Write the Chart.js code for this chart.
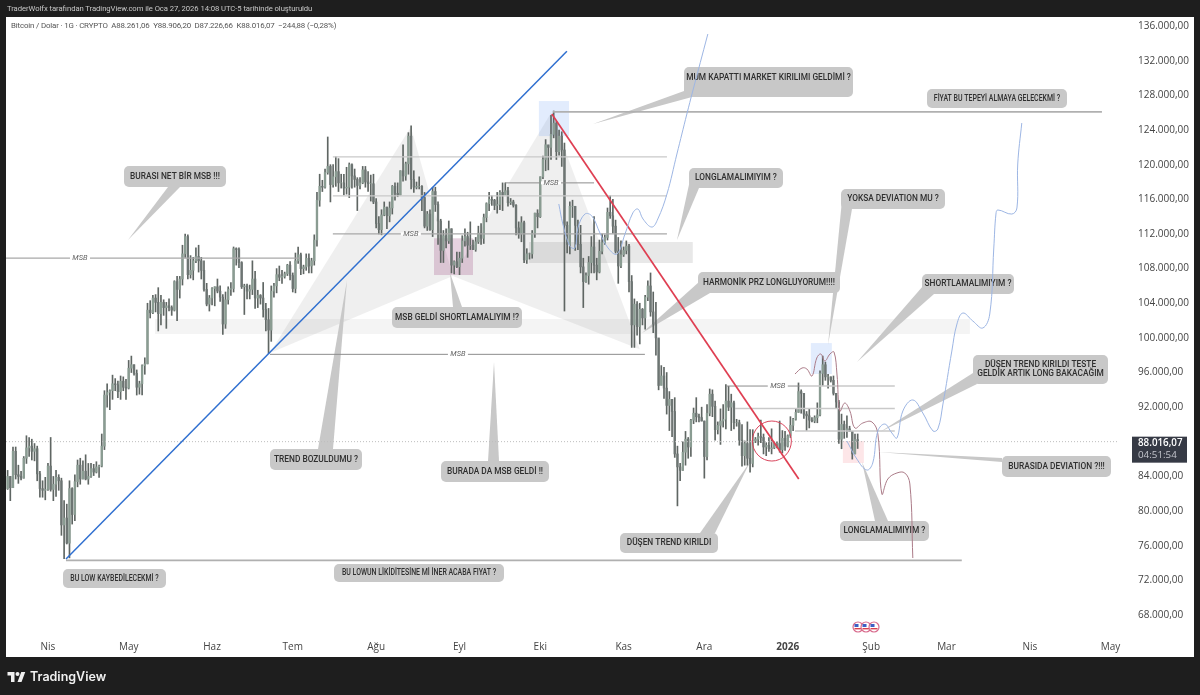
<!DOCTYPE html>
<html lang="tr">
<head>
  <meta charset="UTF-8">
  <title>Bitcoin / Dolar</title>
  <style>
    html, body { margin: 0; width: 1200px; height: 695px; overflow: hidden; background: #1e1e1e; }
    #chart { position: absolute; left: 0; top: 0; }
    .note { position: absolute; white-space: pre; font-family: Roboto, sans-serif; }
    #credit { left: 7px; top: 3px; font-size: 7.7px; letter-spacing: -0.07px; line-height: 12px; color: #c8c8c8; }
    #legend { left: 11px; top: 20px; font-size: 7.9px; letter-spacing: -0.16px; line-height: 12px; color: #555; }
    #brand { left: 30px; top: 667px; font-family: Inter, sans-serif; font-size: 12.5px; font-weight: 600; line-height: 20px; color: #f0f0f0; }
    #logo { position: absolute; left: 7px; top: 670px; }
  </style>
</head>
<body>
  <canvas id="chart" width="1200" height="695"></canvas>
  <div class="note" id="credit">TraderWolfx tarafından TradingView.com ile Oca 27, 2026 14:08 UTC-5 tarihinde oluşturuldu</div>
  <div class="note" id="legend">Bitcoin / Dolar · 1G · CRYPTO  A88.261,06  Y88.906,20  D87.226,66  K88.016,07  −244,88 (−0,28%)</div>
  <svg id="logo" width="19" height="13" viewBox="0 0 36 26"><path fill="#f0f0f0" d="M14 24H7V11H0V4h14v20zM28 24h-8l7.5-20h8L28 24z"/><circle fill="#f0f0f0" cx="20" cy="8" r="4"/></svg>
  <div class="note" id="brand">TradingView</div>

  <script src="https://cdn.jsdelivr.net/npm/chart.js@4"></script>
  <script>
    // Daily candles, in thousands of dollars. First candle is 17 Mar 2025, day 0 is 1 Apr 2025
    const firstDay = -15;
    const firstOpen = 82.6;
    const highs = [
      84.7,84.0,87.4,87.4,85.3,84.6,86.3,88.7,88.5,88.3,87.8,87.5,84.6,83.5,83.9,
      85.5,88.5,84.0,84.7,84.2,83.8,81.2,80.8,83.5,82.7,84.2,85.9,86.1,85.8,86.5,85.5,85.5,85.4,85.7,85.3,88.9,93.9,94.7,94.0,95.7,95.3,95.0,95.6,95.5,95.2,
      97.4,97.9,96.9,96.3,95.0,96.9,97.7,104.0,104.3,104.9,105.0,105.8,104.9,104.4,104.1,104.5,103.7,106.6,107.1,107.1,110.7,112.0,111.9,109.5,109.3,110.4,110.7,109.3,108.9,106.3,104.9,
      105.8,105.9,106.8,106.0,105.0,105.3,105.9,106.4,110.5,110.4,110.4,108.8,106.2,106.2,106.1,108.9,107.7,105.5,105.0,106.4,104.0,103.4,106.0,106.3,108.0,108.3,107.8,107.6,108.5,108.8,
      107.5,109.8,110.5,109.8,108.4,109.7,109.7,109.2,111.9,116.8,118.9,118.2,119.5,123.2,120.0,120.0,120.9,120.7,118.9,118.9,119.7,120.2,120.1,119.5,118.5,118.5,119.8,119.8,119.2,118.8,118.9,
      116.1,114.0,114.8,115.7,115.1,115.7,117.6,117.9,117.9,119.3,122.3,120.3,123.7,124.5,119.3,118.0,118.6,117.6,116.8,114.6,114.8,117.4,117.4,115.7,113.7,112.4,112.6,113.5,112.6,108.9,109.9,
      109.9,111.8,112.6,112.2,113.4,111.3,111.6,112.9,113.2,114.3,115.6,116.8,116.4,116.0,116.8,117.0,117.9,117.9,117.4,116.1,115.9,115.4,113.4,114.0,113.5,110.3,109.8,112.4,114.4,114.8,
      118.6,121.0,122.9,122.2,125.7,126.2,125.0,124.0,123.8,122.5,113.4,115.7,115.9,115.1,113.6,113.0,109.2,107.5,109.4,111.7,114.0,109.2,111.3,112.0,111.9,115.0,116.4,116.0,113.6,111.6,111.2,
      110.5,111.2,110.8,107.2,104.5,104.2,104.0,103.4,104.9,106.6,107.5,105.3,104.1,99.9,96.8,96.6,96.0,93.8,92.9,93.1,87.5,85.5,88.0,89.2,88.5,90.6,91.9,93.1,91.2,92.0,
      90.4,92.3,94.1,94.0,92.7,90.3,91.8,92.3,94.6,94.4,93.5,92.7,90.6,90.5,90.0,88.1,90.3,89.4,89.4,88.5,89.0,90.5,88.9,87.9,88.5,89.5,87.9,88.0,90.4,89.3,89.2,
      88.8,90.9,90.7,91.8,94.8,94.0,93.6,91.5,91.8,90.8,91.0,92.5,96.2,97.9,97.2,95.8,95.5,95.6,93.6,92.8,91.2,90.4,91.0,89.8,89.2,88.9,88.906
    ];
    const lows = [
      82.5,81.2,82.7,83.7,83.2,83.6,83.8,85.5,86.3,85.9,85.8,83.5,81.6,81.6,81.3,
      82.4,82.3,81.2,81.7,82.4,77.2,74.5,76.2,74.6,78.5,78.9,82.8,83.1,83.7,83.6,83.1,83.9,84.1,84.4,83.9,85.1,87.1,92.0,91.7,92.9,93.9,93.1,92.9,93.9,92.9,
      94.1,96.0,95.7,93.4,93.5,93.4,95.8,97.0,102.3,102.8,103.0,100.8,101.5,102.6,101.1,103.1,102.6,103.1,102.0,104.6,106.1,109.3,106.8,106.9,106.7,108.7,107.6,106.8,105.4,103.7,103.1,
      103.8,103.7,105.2,104.2,100.4,101.1,103.9,104.9,105.3,108.4,108.1,105.7,102.7,104.5,104.5,105.0,103.4,103.5,103.9,102.4,100.8,98.2,99.6,104.7,105.2,106.6,106.3,106.9,107.2,106.7,
      105.3,105.2,108.6,107.3,107.4,107.8,107.5,107.5,108.4,110.6,115.2,116.9,117.3,118.9,115.7,117.4,117.5,116.9,117.3,116.5,116.6,116.2,117.3,117.4,114.7,117.2,117.8,117.4,116.9,115.8,115.5,
      112.7,112.0,111.9,114.1,112.6,113.4,114.3,115.9,116.3,116.5,118.1,118.2,118.9,117.2,116.8,117.2,117.2,114.7,112.7,112.4,112.4,111.7,114.6,110.8,108.7,108.7,110.4,110.9,107.5,107.4,108.1,
      107.3,108.7,110.6,109.3,110.2,110.2,110.0,110.9,110.8,110.9,113.4,114.7,115.3,114.8,114.4,114.8,114.7,116.8,115.2,115.4,115.1,111.9,111.5,111.1,108.7,108.6,109.1,109.2,111.6,112.7,
      113.9,118.4,119.3,119.4,120.6,123.1,120.6,121.1,119.8,103.1,109.8,109.7,113.9,110.1,110.2,107.5,103.5,106.4,106.2,107.5,107.5,106.7,107.5,109.7,110.8,111.3,113.8,112.1,109.8,106.3,108.1,
      109.4,109.7,105.3,98.9,98.9,100.3,99.3,101.5,101.0,104.3,102.5,100.6,98.0,94.0,94.6,93.0,91.2,89.3,88.6,86.2,80.6,83.5,84.7,85.3,86.1,86.3,90.1,90.3,90.3,90.4,
      83.8,85.9,91.0,90.9,88.2,88.9,87.7,89.7,89.5,91.6,89.3,89.5,89.8,87.6,85.2,85.3,85.3,84.5,85.1,87.9,87.6,87.9,86.6,86.4,86.9,86.6,87.2,87.3,86.8,86.7,87.0,
      87.4,88.5,89.3,90.5,91.4,91.3,90.7,89.3,89.6,90.3,90.2,90.2,91.0,94.5,95.1,94.2,94.9,93.4,91.9,87.8,87.2,88.4,88.5,89.2,86.0,86.6,87.227
    ];
    const closes = [
      84.0,82.7,86.9,84.2,84.0,83.8,86.1,87.3,87.5,86.9,87.2,84.3,82.6,82.4,82.5,
      85.2,82.5,83.1,83.9,83.5,78.4,79.2,76.3,82.6,79.6,83.4,85.3,83.7,84.6,83.7,84.0,84.9,84.5,85.1,85.2,87.5,93.4,93.7,93.9,94.7,94.6,93.8,95.0,94.3,94.2,
      96.5,96.9,95.9,94.3,94.7,96.8,97.0,103.2,102.9,104.6,104.1,102.8,104.1,103.5,103.7,103.5,103.2,106.5,105.6,106.8,109.7,111.7,107.3,107.8,108.9,109.4,108.9,107.8,105.6,103.9,104.6,
      105.7,105.9,105.4,104.7,101.6,104.4,105.6,105.7,110.3,110.2,108.7,105.9,106.0,105.4,105.6,106.8,104.6,104.9,104.6,103.3,102.1,100.9,105.4,106.0,107.3,107.0,107.1,107.4,108.4,107.2,
      105.7,108.9,109.6,108.0,108.2,109.2,108.3,108.9,111.3,115.9,117.5,117.4,119.1,119.8,117.7,118.6,119.2,117.9,117.9,117.3,117.4,120.0,118.7,118.3,117.6,117.9,119.4,118.0,117.8,117.8,115.7,
      113.2,112.5,114.2,115.1,114.1,115.0,117.5,116.7,116.5,119.3,118.7,120.1,123.3,118.3,117.4,117.5,117.5,116.2,112.9,114.3,112.5,116.9,115.4,113.5,110.1,111.8,111.2,112.6,108.4,108.8,108.2,
      109.2,111.2,111.7,110.7,110.7,110.2,111.1,112.1,111.5,113.9,115.5,116.0,115.9,115.3,115.4,116.8,116.5,117.0,115.6,115.7,115.3,112.7,112.0,113.3,109.0,109.7,109.7,112.1,114.4,114.0,
      118.6,120.6,122.3,122.0,123.5,124.8,121.5,123.3,121.7,113.0,110.8,115.2,115.2,113.0,110.8,108.2,106.5,107.2,108.7,110.5,108.4,107.6,110.0,111.0,111.6,114.5,114.1,112.9,110.0,108.3,109.6,
      110.1,110.6,106.5,101.5,103.9,101.3,103.3,102.3,104.7,106.0,103.0,101.6,100.0,94.5,95.6,94.2,92.2,92.9,91.5,86.6,85.1,84.7,86.8,88.3,87.4,90.5,91.3,90.9,90.8,90.4,
      86.3,91.3,93.5,92.1,89.4,89.9,90.4,90.6,92.7,92.0,92.5,90.2,90.2,88.2,86.4,87.8,86.1,85.5,88.1,88.3,88.6,88.5,87.4,87.6,87.2,87.3,87.8,87.8,87.1,88.4,87.5,
      88.7,89.9,90.6,91.4,93.8,93.6,91.2,91.0,90.5,90.4,90.8,91.1,95.9,96.9,95.5,95.5,95.1,93.6,92.6,88.3,90.0,89.4,89.5,89.2,86.6,88.261,88.016
    ];
    const lastPrice = 88.016;

    // Axes
    const priceTicks = [68,72,76,80,84,88,92,96,100,104,108,112,116,120,124,128,132,136];
    const monthDays = [0,30,61,91,122,153,183,214,244,275,306,334,365,395];
    const monthLabels = ['Nis','May','Haz','Tem','Ağu','Eyl','Eki','Kas','Ara','2026','Şub','Mar','Nis','May'];

    // Trend lines: [day, price] pairs
    const blueTrendDays = [6.7, 192.9];
    const blueTrendPrices = [74.47, 133.1];
    const redTrendDays = [187.3, 279.1];
    const redTrendPrices = [125.85, 83.7];

    // Horizontal levels
    const levelPrices = [109.2, 120.9, 116.4, 112.0, 117.9, 126.1, 98.1, 74.3, 94.44, 94.44, 91.84, 89.25];
    const levelStarts = [-15.6, 105.9, 105.9, 105.9, 169.9, 187.7, 82.5, 6.7, 252.4, 279.5, 255.4, 277.7];
    const levelEnds = [93.7, 230.1, 230.1, 230.1, 203, 391.8, 221.9, 339.7, 279.5, 314.8, 314.8, 314.8];
    const levelKinds = ['mid','light','light','mid','dark','heavy','dark','heavy','dark','light','light','light'];

    // "MSB" tags
    const msbDays = [11.9, 134.9, 187, 152.4, 271.3];
    const msbPrices = [109.2, 112.0, 117.9, 98.1, 94.44];

    // Price zones
    const zoneStarts = [39.8, 178.8, 182.5, 143.5, 283.6, 295.5];
    const zoneEnds = [342.7, 239.7, 193.7, 158, 291.4, 303.3];
    const zoneHighs = [102.18, 111.07, 127.35, 111.5, 99.4, 88.09];
    const zoneLows = [100.45, 108.65, 123.3, 107.26, 95.83, 85.55];
    const zoneFills = ['rgba(120,120,120,.08)','rgba(120,120,120,.17)','rgba(60,130,240,.15)','rgba(150,60,120,.23)','rgba(60,130,240,.15)','rgba(240,80,90,.14)'];

    // Harmonic pattern X A B C D
    const harmonicDays = [82.5, 134.9, 150.5, 187, 220];
    const harmonicPrices = [98.25, 124.35, 107.14, 125.97, 98.7];

    // Hand drawn scenarios
    const blueLeftDays = [189.9,191.4,194.0,195.9,197.0,199.6,202.2,205.2,208.2,211.5,214.5,217.4,219.3,221.2,224.5,226.7,230.1,233.8,237.5,239.7,245.3];
    const blueLeftPrices = [115.46,113.15,110.61,110.38,112.69,114.30,114.07,112.11,110.38,109.68,111.99,114.42,114.88,113.73,112.80,113.73,116.61,121.23,125.85,128.51,135.09];
    const blueRightDays = [297.0,300.7,304.4,306.6,308.5,311.1,313.7,315.6,317.8,321.5,325.2,329.0,330.8,332.7,336.0,337.9,340.1,343.8,347.5,350.1,351.6,352.4,353.1,358.3,360.2,360.5,362.0];
    const blueRightPrices = [88.09,86.01,84.74,85.55,89.25,90.05,89.02,88.44,91.56,92.83,91.33,89.25,89.48,92.36,98.48,101.60,102.87,101.95,101.14,102.76,110.38,114.30,114.77,114.30,115.0,120.08,124.81];
    const maroonDays = [277.7,280.3,282.1,284.0,285.8,287.3,288.8,290.7,292.2,293.3,294.4,296.2,298.1,300.0,302.9,306.3,308.5,310.0,312.2,315.6,318.5,320.4,321.5];
    const maroonPrices = [95.83,96.52,96.41,95.60,97.68,98.14,97.33,98.14,98.37,95.83,91.56,92.48,91.56,89.59,90.17,90.29,88.90,81.97,83.70,84.40,84.40,83.13,74.58];

    // Circle on the trend break
    const circleDay = 269.1;
    const circlePrice = 88.09;

    const levelStyle = {
      dark: { color: '#8c8c8c', width: 1 },
      mid: { color: '#a8a8a8', width: 1.2 },
      light: { color: '#c9c9c9', width: 1.4 },
      heavy: { color: '#b0b0b0', width: 1.8 }
    };

    const days = closes.map((c, i) => firstDay + i);
    const opens = closes.map((c, i) => i ? closes[i - 1] : firstOpen);

    function zip(xs, ys) {
      return xs.map((x, i) => ({ x: x, y: ys[i] }));
    }
    function drawnLine(xs, ys, color, width, extra) {
      return Object.assign({
        type: 'line', data: zip(xs, ys), borderColor: color, borderWidth: width,
        pointRadius: 0, fill: false, tension: 0, order: 2
      }, extra || {});
    }

    const datasets = [
      {
        type: 'bar', data: days.map((d, i) => ({ x: d, y: [lows[i], highs[i]] })),
        backgroundColor: '#5f6663', barThickness: 1, grouped: false, order: 6
      },
      {
        type: 'bar', data: days.map((d, i) => ({ x: d, y: [opens[i], closes[i]] })),
        backgroundColor: days.map((d, i) => closes[i] >= opens[i] ? '#8a9c92' : '#6d7573'),
        barThickness: 1.7, grouped: false, order: 5
      }
    ];
    levelPrices.forEach((p, i) => {
      const st = levelStyle[levelKinds[i]];
      datasets.push(drawnLine([levelStarts[i], levelEnds[i]], [p, p], st.color, st.width, { order: 4 }));
    });
    datasets.push(drawnLine([-15.6, 397.4], [lastPrice, lastPrice], '#bdbdbd', 1, { borderDash: [1, 2], order: 4 }));
    datasets.push(drawnLine(blueTrendDays, blueTrendPrices, '#2f6fd0', 1.5));
    datasets.push(drawnLine(redTrendDays, redTrendPrices, '#df3f52', 1.7));
    datasets.push(drawnLine(blueLeftDays, blueLeftPrices, '#9db6e4', 1, { tension: 0.4, order: 1 }));
    datasets.push(drawnLine(blueRightDays, blueRightPrices, '#9db6e4', 1, { tension: 0.4, order: 1 }));
    datasets.push(drawnLine(maroonDays, maroonPrices, '#ab7b88', 1, { tension: 0.4, order: 1 }));

    // Speech bubbles, page pixels: box, then the two tail base points and the tip
    const bubbles = [
      { lines: ['BURASI NET BİR MSB !!!'], box: [124,166,226,187], tail: [168,187,180,187,128,240] },
      { lines: ['TREND BOZULDUMU ?'], box: [270,449,362,470], tail: [318,449,333,449,347,280] },
      { lines: ['MSB GELDİ SHORTLAMALIYIM !?'], box: [392,307,522,328], tail: [453,307,462,307,450,273] },
      { lines: ['BURADA DA MSB GELDİ !!'], box: [441,461,549,482], tail: [488,461,499,461,494,362] },
      { lines: ['MUM KAPATTI MARKET KIRILIMI GELDİMİ ?'], box: [684,67,853,97], tail: [684,91,692,97,593,124], textY: 78 },
      { lines: ['FİYAT BU TEPEYİ ALMAYA GELECEKMİ ?'], box: [927,89,1067,108], small: true },
      { lines: ['LONGLAMALIMIYIM ?'], box: [689,168,783,188], tail: [690,180,699,188,677,240] },
      { lines: ['YOKSA DEVIATION MU ?'], box: [841,189,945,209], tail: [842,200,852,209,828,345] },
      { lines: ['HARMONİK PRZ LONGLUYORUM!!!!'], box: [698,272,840,293], tail: [699,282,710,293,642,333] },
      { lines: ['SHORTLAMALIMIYIM ?'], box: [922,274,1014,294], tail: [923,286,934,294,857,362] },
      { lines: ['DÜŞEN TREND KIRILDI TESTE', 'GELDİK ARTIK LONG BAKACAĞIM'], box: [973,355,1108,384], tail: [973,373,977,384,880,432] },
      { lines: ['BURASIDA DEVIATION ?!!!'], box: [1002,456,1111,477], tail: [1002,458,1002,462,878,452] },
      { lines: ['LONGLAMALIMIYIM ?'], box: [840,521,929,541], tail: [875,521,888,521,862,462] },
      { lines: ['DÜŞEN TREND KIRILDI'], box: [620,533,718,553], tail: [700,533,715,533,750,462] },
      { lines: ['BU LOW KAYBEDİLECEKMİ ?'], box: [63,569,166,588], small: true },
      { lines: ['BU LOWUN LİKİDİTESİNE Mİ İNER ACABA FIYAT ?'], box: [334,564,504,582], small: true }
    ];

    const underlay = {
      id: 'underlay',
      beforeDraw(chart) {
        const c = chart.ctx;
        c.save();
        c.fillStyle = '#ffffff';
        c.fillRect(6, 17, 1188, 640);
        c.restore();
      },
      beforeDatasetsDraw(chart) {
        const c = chart.ctx, sx = chart.scales.x, sy = chart.scales.y;
        c.save();
        // harmonic pattern, two triangles
        c.fillStyle = 'rgba(110,110,110,.11)';
        [[0, 1, 2], [2, 3, 4]].forEach(tri => {
          c.beginPath();
          tri.forEach((k, i) => {
            const px = sx.getPixelForValue(harmonicDays[k]), py = sy.getPixelForValue(harmonicPrices[k]);
            if (i) c.lineTo(px, py); else c.moveTo(px, py);
          });
          c.closePath();
          c.fill();
        });
        zoneStarts.forEach((s, i) => {
          const x0 = sx.getPixelForValue(s), x1 = sx.getPixelForValue(zoneEnds[i]);
          const y0 = sy.getPixelForValue(zoneHighs[i]), y1 = sy.getPixelForValue(zoneLows[i]);
          c.fillStyle = zoneFills[i];
          c.fillRect(x0, y0, x1 - x0, y1 - y0);
        });
        bubbles.forEach(b => {
          const [x0, y0, x1, y1] = b.box;
          c.fillStyle = '#c8c8c8';
          if (b.tail) {
            const t = b.tail;
            c.beginPath();
            c.moveTo(t[0], t[1]);
            c.lineTo(t[4], t[5]);
            c.lineTo(t[2], t[3]);
            c.closePath();
            c.fill();
          }
          c.beginPath();
          c.roundRect(x0, y0, x1 - x0, y1 - y0, 5);
          c.fill();
          c.fillStyle = '#2f2f2f';
          c.font = (b.small ? '500 8.6px' : '500 9.8px') + ' Roboto, sans-serif';
          c.textAlign = 'center';
          c.textBaseline = 'middle';
          // the original face is narrow, so squeeze the text sideways
          const squeeze = b.small ? 0.81 : 0.85;
          const mid = b.textY || (y0 + y1) / 2;
          b.lines.forEach((t, i) => {
            c.save();
            c.translate((x0 + x1) / 2, mid + (i - (b.lines.length - 1) / 2) * 9);
            c.scale(squeeze, 1);
            c.fillText(t, 0, 0);
            c.restore();
          });
        });
        c.restore();
      },
      afterDatasetsDraw(chart) {
        const c = chart.ctx, sx = chart.scales.x, sy = chart.scales.y;
        c.save();
        // MSB tags
        c.font = 'italic 7.5px Roboto, sans-serif';
        c.textAlign = 'center';
        c.textBaseline = 'middle';
        msbDays.forEach((d, i) => {
          const px = sx.getPixelForValue(d), py = sy.getPixelForValue(msbPrices[i]);
          c.fillStyle = '#ffffff';
          c.fillRect(px - 10, py - 1.5, 20, 3);
          c.fillStyle = '#666';
          c.fillText('MSB', px, py);
        });
        // circle
        c.strokeStyle = '#d9455c';
        c.lineWidth = 1;
        c.beginPath();
        c.ellipse(sx.getPixelForValue(circleDay), sy.getPixelForValue(circlePrice), 19.5, 20, 0, 0, Math.PI * 2);
        c.stroke();
        // last price tag
        const tagY = sy.getPixelForValue(lastPrice);
        c.fillStyle = '#363a45';
        c.fillRect(1132, tagY - 5, 55, 26);
        c.textAlign = 'left';
        c.font = '600 9.8px "Open Sans", sans-serif';
        c.fillStyle = '#ffffff';
        c.fillText('88.016,07', 1138, tagY + 2);
        c.font = '9.8px "Open Sans", sans-serif';
        c.fillStyle = '#c3c5cc';
        c.fillText('04:51:54', 1138, tagY + 14);
        // economic event flags
        [858, 866, 874].forEach(fx => {
          c.beginPath();
          c.arc(fx, 627, 5, 0, Math.PI * 2);
          c.fillStyle = '#ffffff';
          c.fill();
          c.lineWidth = 1.2;
          c.strokeStyle = '#d86a8c';
          c.stroke();
          c.fillStyle = '#d8404f';
          c.fillRect(fx - 3.5, 628, 7, 1.4);
          c.fillStyle = '#3d5fc4';
          c.fillRect(fx - 3.5, 624, 4, 3);
        });
        c.restore();
      }
    };

    new Chart(document.getElementById('chart'), {
      data: { datasets: datasets },
      plugins: [underlay],
      options: {
        responsive: false,
        devicePixelRatio: 1,
        animation: false,
        events: [],
        layout: { padding: { left: 6, top: 17, right: 6, bottom: 38 } },
        plugins: { legend: { display: false }, tooltip: { enabled: false } },
        datasets: { bar: { borderWidth: 0 } },
        scales: {
          x: {
            type: 'linear', offset: false, min: -15.6, max: 397.4,
            grid: { display: false, drawTicks: false, offset: false }, border: { display: false },
            afterBuildTicks(scale) { scale.ticks = monthDays.map(d => ({ value: d })); },
            afterFit(scale) { scale.height = 21; scale.paddingLeft = 0; scale.paddingRight = 0; },
            ticks: {
              autoSkip: false, maxRotation: 0, padding: 5, color: '#444',
              font: ctx => ({
                family: '"Open Sans", sans-serif', size: 10,
                weight: monthLabels[ctx.index] === '2026' ? '700' : '400'
              }),
              callback: (v, i) => monthLabels[i]
            }
          },
          y: {
            type: 'linear', position: 'right', min: 65.575, max: 137.055,
            grid: { display: false, drawTicks: false }, border: { display: false },
            afterBuildTicks(scale) { scale.ticks = priceTicks.map(v => ({ value: v })); },
            afterFit(scale) { scale.width = 77; scale.paddingTop = 0; scale.paddingBottom = 0; },
            ticks: {
              padding: 21, color: '#444', autoSkip: false,
              font: { family: '"Open Sans", sans-serif', size: 10 },
              callback: v => (v * 1000).toLocaleString('de-DE', { minimumFractionDigits: 2, maximumFractionDigits: 2 })
            }
          }
        }
      }
    });
  </script>
</body>
</html>
